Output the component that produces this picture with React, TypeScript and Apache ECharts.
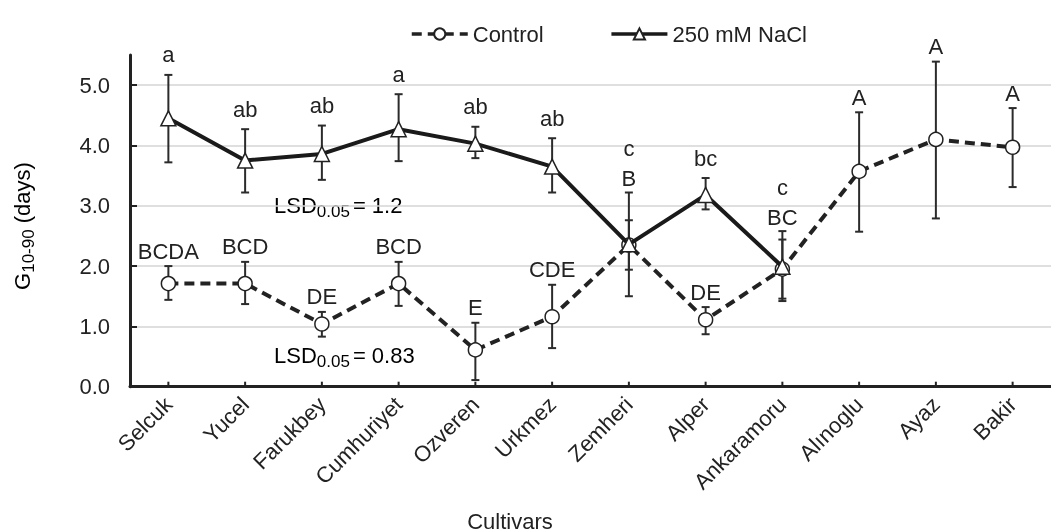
import React, { useEffect, useRef } from "react";
import * as echarts from "echarts";

const cultivars = ["Selcuk", "Yucel", "Farukbey", "Cumhuriyet", "Ozveren", "Urkmez", "Zemheri", "Alper", "Ankaramoru", "Alınoglu", "Ayaz", "Bakir"];

const controlMean = [1.71, 1.71, 1.04, 1.71, 0.61, 1.16, 2.35, 1.11, 1.95, 3.57, 4.10, 3.97];
const controlHigh = [2.00, 2.07, 1.24, 2.07, 1.06, 1.69, 2.76, 1.32, 2.44, 4.55, 5.39, 4.62];
const controlLow = [1.44, 1.37, 0.83, 1.34, 0.11, 0.64, 1.94, 0.87, 1.46, 2.57, 2.79, 3.31];
const controlLetters = ["BCDA", "BCD", "DE", "BCD", "E", "CDE", "B", "DE", "BC", "A", "A", "A"];

const naclMean = [4.45, 3.75, 3.86, 4.27, 4.03, 3.65, 2.36, 3.18, 1.99, null, null, null];
const naclHigh = [5.17, 4.27, 4.33, 4.85, 4.31, 4.12, 3.22, 3.46, 2.58, null, null, null];
const naclLow = [3.72, 3.22, 3.43, 3.74, 3.79, 3.22, 1.50, 2.94, 1.42, null, null, null];
const naclLetters = ["a", "ab", "ab", "a", "ab", "ab", "c", "bc", "c", "", "", ""];

const yTicks = [0, 1, 2, 3, 4, 5];

const FONT = '"Liberation Sans", Arial, sans-serif';
const INK = "#222222";

function errorSeries(key: string, means: (number | null)[], lows: (number | null)[], highs: (number | null)[], letters: string[], isNacl: boolean) {
  const data: number[][] = [];
  means.forEach((m, i) => {
    if (m != null) data.push([i, lows[i] as number, highs[i] as number, m]);
  });
  return {
    type: "custom",
    name: key,
    z: 1,
    silent: true,
    data,
    encode: { x: 0, y: [1, 2] },
    renderItem: (params: any, api: any) => {
      const i = api.value(0);
      const lo = api.coord([i, api.value(1)]);
      const hi = api.coord([i, api.value(2)]);
      const cap = 4;
      const otherMean = isNacl ? controlMean[i] : naclMean[i];
      const otherHigh = isNacl ? controlHigh[i] : naclHigh[i];
      const stacked = otherMean != null && Math.abs((otherMean as number) - api.value(3)) < 0.3;
      let labelY: number;
      if (stacked) {
        const topPx = api.coord([i, Math.max(api.value(2), otherHigh as number)])[1];
        labelY = isNacl ? topPx - 14 - 30 : topPx - 14;
      } else {
        labelY = hi[1] - (isNacl ? 20 : 15);
      }
      const st = { stroke: "#2b2b2b", lineWidth: 2 };
      return {
        type: "group",
        children: [
          { type: "line", shape: { x1: lo[0], y1: lo[1], x2: hi[0], y2: hi[1] }, style: st },
          { type: "line", shape: { x1: lo[0] - cap, y1: lo[1], x2: lo[0] + cap, y2: lo[1] }, style: st },
          { type: "line", shape: { x1: hi[0] - cap, y1: hi[1], x2: hi[0] + cap, y2: hi[1] }, style: st },
          {
            type: "text",
            x: hi[0],
            y: labelY,
            style: {
              text: letters[i],
              fill: INK,
              fontSize: 22,
              fontFamily: FONT,
              align: "center",
              verticalAlign: "middle",
            },
          },
        ],
      };
    },
  };
}

export default function App() {
  const ref = useRef<HTMLDivElement>(null);
  useEffect(() => {
    if (!ref.current) return;
    const chart = echarts.init(ref.current, null, { renderer: "svg" });
    const subRich = {
      m: { fontSize: 22, fontFamily: FONT, color: INK },
      s: { fontSize: 17, fontFamily: FONT, color: INK, padding: [12, 3, 0, 0] },
    };
    const option: any = {
      animation: false,
      grid: { left: 130, right: -8.6, top: 55, bottom: 145.3, containLabel: false },
      legend: {
        data: ["Control", "250 mM NaCl"],
        left: 405,
        top: 18,
        itemWidth: 56,
        itemHeight: 14,
        itemGap: 66,
        lineStyle: { width: 3.5 },
        textStyle: { fontSize: 22, fontFamily: FONT, color: INK },
      },
      xAxis: {
        type: "category",
        data: cultivars,
        boundaryGap: true,
        axisLine: { lineStyle: { color: INK, width: 3 } },
        axisTick: { inside: true, length: 7, lineStyle: { color: INK, width: 2 } },
        axisLabel: { rotate: 45, interval: 0, fontSize: 22, fontFamily: FONT, color: INK, margin: 14 },
        splitLine: { show: false },
      },
      yAxis: {
        type: "value",
        min: 0,
        max: 5.5,
        interval: 1,
        axisLine: { show: true, lineStyle: { color: INK, width: 3 } },
        axisTick: { show: true, inside: true, length: 7, lineStyle: { color: INK, width: 2 }, customValues: yTicks },
        axisLabel: {
          customValues: yTicks,
          formatter: (v: number) => v.toFixed(1),
          fontSize: 22,
          fontFamily: FONT,
          color: INK,
          margin: 20,
        },
        splitLine: { show: true, lineStyle: { color: "#d4d4d4", width: 1.5, type: "solid" } },
      },
      series: [
        {
          type: "custom",
          name: "center-ticks",
          z: 4,
          silent: true,
          data: cultivars.map((c, i) => [i, 0]),
          encode: { x: 0, y: 1 },
          renderItem: (params: any, api: any) => {
            const p = api.coord([api.value(0), 0]);
            return {
              type: "line",
              shape: { x1: p[0], y1: p[1] - 1, x2: p[0], y2: p[1] - 5 },
              style: { stroke: INK, lineWidth: 2 },
            };
          },
        },
        errorSeries("control-err", controlMean, controlLow, controlHigh, controlLetters, false),
        errorSeries("nacl-err", naclMean, naclLow, naclHigh, naclLetters, true),
        {
          type: "line",
          name: "Control",
          data: controlMean,
          z: 2,
          symbol: "circle",
          symbolSize: 14,
          itemStyle: { color: "#ffffff", borderColor: INK, borderWidth: 1.5 },
          lineStyle: { color: INK, width: 4, type: [10, 6] },
        },
        {
          type: "line",
          name: "250 mM NaCl",
          data: naclMean,
          z: 3,
          symbol: "triangle",
          symbolSize: 15,
          itemStyle: { color: "#ffffff", borderColor: INK, borderWidth: 1.5 },
          lineStyle: { color: "#1a1a1a", width: 4, type: "solid" },
        },
      ],
      graphic: [
        {
          type: "text",
          x: 22,
          y: 226,
          rotation: Math.PI / 2,
          style: {
            text: "{m|G}{s|10-90}{m| (days)}",
            rich: {
              m: { fontSize: 22, fontFamily: FONT, color: INK },
              s: { fontSize: 17, fontFamily: FONT, color: INK, padding: [12, 0, 0, 0] },
            },
            align: "center",
            verticalAlign: "middle",
          },
        },
        {
          type: "text",
          x: 274,
          y: 205,
          style: { text: "{m|LSD}{s|0.05}{m|= 1.2}", rich: subRich, align: "left", verticalAlign: "middle" },
        },
        {
          type: "text",
          x: 274,
          y: 355,
          style: { text: "{m|LSD}{s|0.05}{m|= 0.83}", rich: subRich, align: "left", verticalAlign: "middle" },
        },
        {
          type: "text",
          x: 510,
          y: 521,
          style: { text: "Cultivars", fontSize: 22, fontFamily: FONT, fill: INK, align: "center", verticalAlign: "middle" },
        },
      ],
    };
    chart.setOption(option);
    return () => chart.dispose();
  }, []);
  return <div ref={ref} style={{ position: "fixed", left: 0, top: 0, width: 1051, height: 532 }} />;
}
